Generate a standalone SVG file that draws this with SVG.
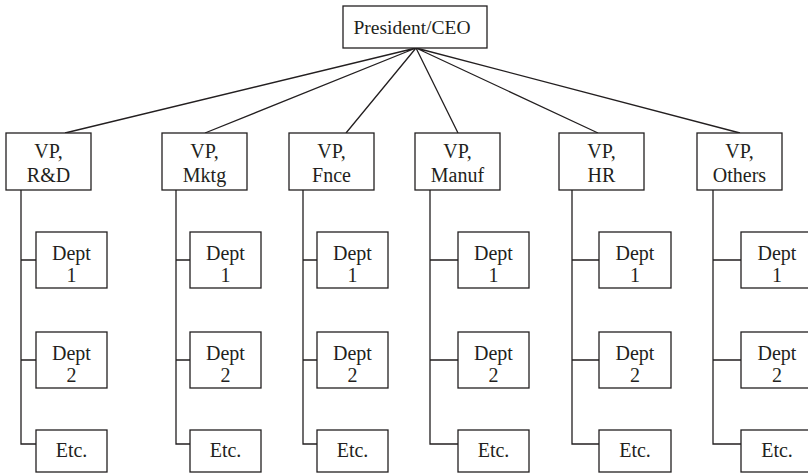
<svg xmlns="http://www.w3.org/2000/svg" width="808" height="475" viewBox="0 0 808 475">
<style>
.b{fill:#fff;stroke:#231f20;stroke-width:1.3}
.c{fill:none;stroke:#231f20;stroke-width:1.3}
text{font-family:"Liberation Serif","Times New Roman",serif;font-size:20px;fill:#231f20;text-anchor:middle}
</style>
<rect width="808" height="475" fill="#fff"/>
<g id="connectors" class="c">
<path d="M416,48L65,133M416,48L205,133M416,48L346,133M416,48L458,133M416,48L598,133M416,48L740,133"/>
<path d="M21,190V444H36M21,260H36M21,360H36"/>
<path d="M176,190V444H190M176,260H190M176,360H190"/>
<path d="M303,190V444H317M303,260H317M303,360H317"/>
<path d="M430,190V444H458M430,260H458M430,360H458"/>
<path d="M572,190V444H599M572,260H599M572,360H599"/>
<path d="M713,190V444H741M713,260H741M713,360H741"/>
</g>
<g id="ceo"><rect class="b" x="343" y="6" width="144" height="42"/><text x="412" y="34" style="font-size:19.5px">President/CEO</text></g>
<g id="vp-rd"><rect class="b" x="6" y="133" width="85" height="57"/><text x="48.5" y="158">VP,</text><text x="48.5" y="182">R&amp;D</text></g>
<g id="vp-mktg"><rect class="b" x="162" y="133" width="85" height="57"/><text x="204.5" y="158">VP,</text><text x="204.5" y="182">Mktg</text></g>
<g id="vp-fnce"><rect class="b" x="289" y="133" width="85" height="57"/><text x="331.5" y="158">VP,</text><text x="331.5" y="182">Fnce</text></g>
<g id="vp-manuf"><rect class="b" x="415" y="133" width="85" height="57"/><text x="457.5" y="158">VP,</text><text x="457.5" y="182">Manuf</text></g>
<g id="vp-hr"><rect class="b" x="559" y="133" width="85" height="57"/><text x="601.5" y="158">VP,</text><text x="601.5" y="182">HR</text></g>
<g id="vp-others"><rect class="b" x="697" y="133" width="85" height="57"/><text x="739.5" y="158">VP,</text><text x="739.5" y="182">Others</text></g>

<g id="rd-d1"><rect class="b" x="36" y="232" width="71" height="56"/><text x="71.5" y="260">Dept</text><text x="71.5" y="282">1</text></g>
<g id="rd-d2"><rect class="b" x="36" y="332" width="71" height="56"/><text x="71.5" y="360">Dept</text><text x="71.5" y="382">2</text></g>
<g id="rd-etc"><rect class="b" x="36" y="430" width="71" height="42"/><text x="71.5" y="457">Etc.</text></g>

<g id="mktg-d1"><rect class="b" x="190" y="232" width="71" height="56"/><text x="225.5" y="260">Dept</text><text x="225.5" y="282">1</text></g>
<g id="mktg-d2"><rect class="b" x="190" y="332" width="71" height="56"/><text x="225.5" y="360">Dept</text><text x="225.5" y="382">2</text></g>
<g id="mktg-etc"><rect class="b" x="190" y="430" width="71" height="42"/><text x="225.5" y="457">Etc.</text></g>

<g id="fnce-d1"><rect class="b" x="317" y="232" width="71" height="56"/><text x="352.5" y="260">Dept</text><text x="352.5" y="282">1</text></g>
<g id="fnce-d2"><rect class="b" x="317" y="332" width="71" height="56"/><text x="352.5" y="360">Dept</text><text x="352.5" y="382">2</text></g>
<g id="fnce-etc"><rect class="b" x="317" y="430" width="71" height="42"/><text x="352.5" y="457">Etc.</text></g>

<g id="manuf-d1"><rect class="b" x="458" y="232" width="71" height="56"/><text x="493.5" y="260">Dept</text><text x="493.5" y="282">1</text></g>
<g id="manuf-d2"><rect class="b" x="458" y="332" width="71" height="56"/><text x="493.5" y="360">Dept</text><text x="493.5" y="382">2</text></g>
<g id="manuf-etc"><rect class="b" x="458" y="430" width="71" height="42"/><text x="493.5" y="457">Etc.</text></g>

<g id="hr-d1"><rect class="b" x="599" y="232" width="72" height="56"/><text x="635" y="260">Dept</text><text x="635" y="282">1</text></g>
<g id="hr-d2"><rect class="b" x="599" y="332" width="72" height="56"/><text x="635" y="360">Dept</text><text x="635" y="382">2</text></g>
<g id="hr-etc"><rect class="b" x="599" y="430" width="72" height="42"/><text x="635" y="457">Etc.</text></g>

<g id="others-d1"><rect class="b" x="741" y="232" width="72" height="56"/><text x="777" y="260">Dept</text><text x="777" y="282">1</text></g>
<g id="others-d2"><rect class="b" x="741" y="332" width="72" height="56"/><text x="777" y="360">Dept</text><text x="777" y="382">2</text></g>
<g id="others-etc"><rect class="b" x="741" y="430" width="72" height="42"/><text x="777" y="457">Etc.</text></g>
</svg>
